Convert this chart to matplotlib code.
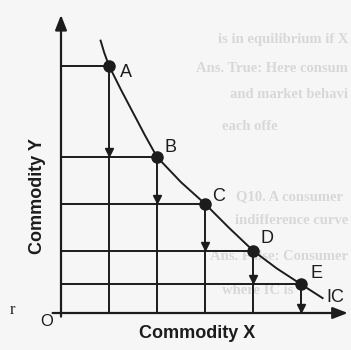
import matplotlib.pyplot as plt

# Bundles on one indifference curve (units of X and Y)
points = ["A", "B", "C", "D", "E"]
qty_x = [2.0, 4.0, 6.0, 8.0, 10.0]
qty_y = [10.3, 6.5, 4.55, 2.6, 1.2]

# Shape of the IC line
ic_x = [1.65, 1.8, 2.0, 2.5, 3.0, 3.5, 4.0, 5.0, 6.0, 7.0, 8.0, 9.0, 10.0, 10.9]
ic_y = [11.35, 10.85, 10.3, 9.3, 8.35, 7.4, 6.5, 5.45, 4.55, 3.55, 2.6, 1.85, 1.2, 0.62]

# Page text printed around the figure (x, y in pixels, alignment)
page_lines = [
    (348, 40, "right", "is in equilibrium if X"),
    (348, 68, "right", "Ans. True: Here consum"),
    (348, 95, "right", "and market behavi"),
    (222, 126, "left", "each offe"),
    (236, 197, "left", "Q10. A consumer"),
    (348, 221, "right", "indifference curve"),
    (348, 256, "right", "Ans. False: Consumer"),
    (222, 291, "left", "where IC is"),
]

INK = "#1c1c1c"
PX = 24.0          # pixels per unit
X0, Y0 = 61, 313   # origin in pixels

fig = plt.figure(figsize=(3.51, 3.50), dpi=100, facecolor="#f6f6f6")
ax = fig.add_axes([0, 0, 1, 1])
ax.set_xlim(-X0 / PX, (351 - X0) / PX)
ax.set_ylim((Y0 - 350) / PX, Y0 / PX)
ax.axis("off")

for px, py, ha, s in page_lines:
    ax.text((px - X0) / PX, (Y0 - py) / PX, s, color="#d8d8d8", fontsize=10.5,
            family="Liberation Serif", fontweight="bold", va="center", ha=ha, zorder=0)

# axes with arrow heads
ax.annotate("", xy=(0, 12.42), xytext=(0, -0.15),
            arrowprops=dict(arrowstyle="-|>,head_length=0.9,head_width=0.35",
                            lw=1.6, color=INK, shrinkA=0, shrinkB=0))
ax.annotate("", xy=(11.95, 0), xytext=(-0.35, 0),
            arrowprops=dict(arrowstyle="-|>,head_length=0.9,head_width=0.35",
                            lw=1.6, color=INK, shrinkA=0, shrinkB=0))

# grid of guide lines to each bundle
for x, y in zip(qty_x, qty_y):
    ax.plot([0, x], [y, y], color=INK, lw=1.4)
    ax.plot([x, x], [0, y], color=INK, lw=1.4)

# down arrows: fall in Y as X increases
next_y = qty_y[1:] + [0.0]
for x, y in zip(qty_x, next_y):
    ax.plot(x, y + 0.2, marker="v", ms=6, color=INK, mec=INK)

ax.plot(ic_x, ic_y, color=INK, lw=1.4)
ax.plot(qty_x, qty_y, "o", ms=8, color=INK)

offsets = [(12, -5), (10, 7), (10, 5), (10, 9), (11, 8)]
for name, x, y, off in zip(points, qty_x, qty_y, offsets):
    ax.annotate(name, (x, y), xytext=off, textcoords="offset points",
                fontsize=13, family="Liberation Sans", color=INK, va="center", ha="center")

ax.text((335 - X0) / PX, (Y0 - 297) / PX, "IC", fontsize=13, family="Liberation Sans",
        color=INK, ha="center", va="center")
ax.text((47 - X0) / PX, (Y0 - 322) / PX, "O", fontsize=12, family="Liberation Sans",
        color=INK, ha="center", va="center")
ax.text((12 - X0) / PX, (Y0 - 310) / PX, "r", fontsize=12, family="Liberation Serif",
        color=INK, ha="center", va="center")

ax.text((197 - X0) / PX, (Y0 - 333) / PX, "Commodity X", fontsize=13, fontweight="bold",
        family="Liberation Sans", color=INK, ha="center", va="center")
ax.text((37 - X0) / PX, (Y0 - 196) / PX, "Commodity Y", fontsize=13, fontweight="bold",
        family="Liberation Sans", color=INK, ha="center", va="center", rotation=90)

plt.savefig("out.png", dpi=100, facecolor=fig.get_facecolor())
